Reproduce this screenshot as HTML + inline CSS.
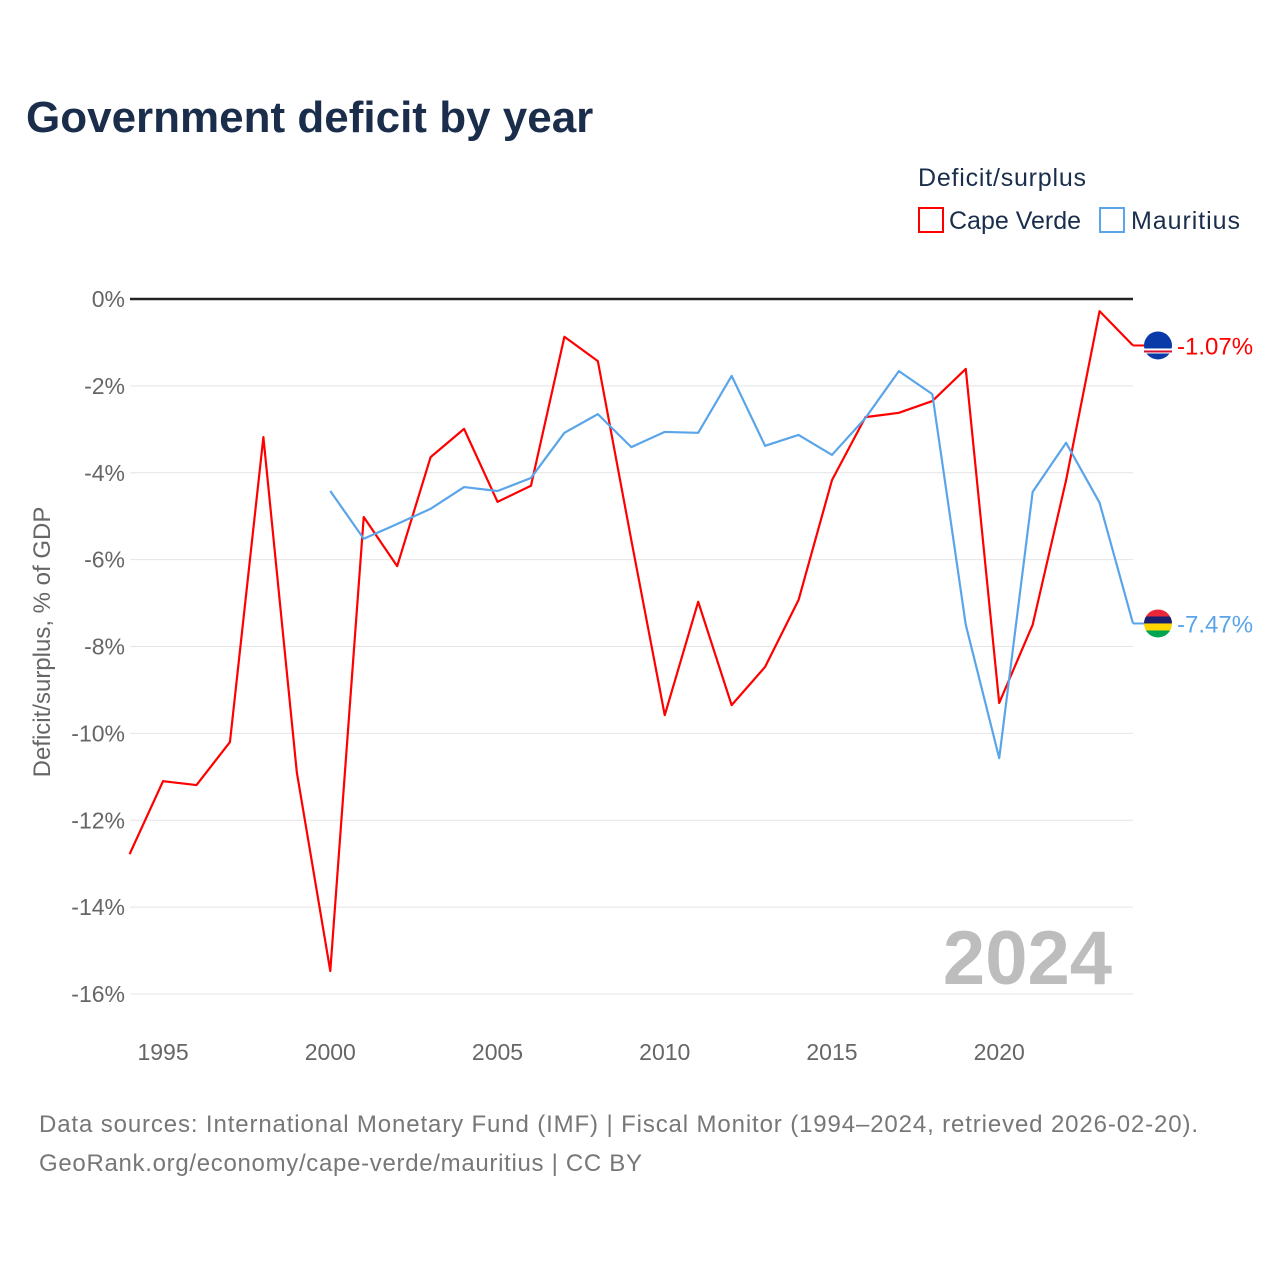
<!DOCTYPE html>
<html><head><meta charset="utf-8">
<style>
body{margin:0;background:#fff;font-family:"Liberation Sans",sans-serif;}
svg text{font-family:"Liberation Sans",sans-serif;}
</style></head>
<body>
<svg id="chart" width="1280" height="1280" viewBox="0 0 1280 1280" xmlns="http://www.w3.org/2000/svg">
<rect width="1280" height="1280" fill="#fff"/>
<text x="26" y="132" font-size="44" font-weight="bold" fill="#1a2e4c">Government deficit by year</text>
<text x="918" y="186" font-size="25" fill="#1a2e4c" textLength="168">Deficit/surplus</text>
<g>
<rect x="919" y="208" width="24" height="24" fill="none" stroke="#ff0000" stroke-width="2"/>
<text x="949" y="229" font-size="25" fill="#1a2e4c" textLength="132">Cape Verde</text></g>
<g>
<rect x="1100" y="208" width="24" height="24" fill="none" stroke="#5aa5ea" stroke-width="2"/>
<text x="1131" y="229" font-size="25" fill="#1a2e4c" textLength="109">Mauritius</text></g>
<text transform="translate(50,642) rotate(-90)" text-anchor="middle" font-size="24" fill="#666">Deficit/surplus, % of GDP</text>
<g id="grid"></g><g id="ticks"></g>
<text x="1112" y="984" text-anchor="end" font-size="76" font-weight="bold" fill="#bdbdbd">2024</text>
<g id="series"></g>
<text x="39" y="1132" font-size="24" fill="#777" textLength="1159">Data sources: International Monetary Fund (IMF) | Fiscal Monitor (1994–2024, retrieved 2026-02-20).</text>
<text x="39" y="1171" font-size="24" fill="#777" textLength="603">GeoRank.org/economy/cape-verde/mauritius | CC BY</text>
</svg>
<script>
const yTicks=[0,-2,-4,-6,-8,-10,-12,-14,-16];
const xTicks=[1995,2000,2005,2010,2015,2020];
const cvYears=[1994,1995,1996,1997,1998,1999,2000,2001,2002,2003,2004,2005,2006,2007,2008,2009,2010,2011,2012,2013,2014,2015,2016,2017,2018,2019,2020,2021,2022,2023,2024];
const cvValues=[-12.78,-11.1,-11.19,-10.2,-3.18,-10.9,-15.47,-5.02,-6.15,-3.64,-2.99,-4.67,-4.3,-0.87,-1.43,-5.55,-9.58,-6.97,-9.35,-8.47,-6.93,-4.17,-2.72,-2.62,-2.35,-1.61,-9.3,-7.5,-4.17,-0.28,-1.07];
const muYears=[2000,2001,2002,2003,2004,2005,2006,2007,2008,2009,2010,2011,2012,2013,2014,2015,2016,2017,2018,2019,2020,2021,2022,2023,2024];
const muValues=[-4.42,-5.52,-5.18,-4.83,-4.33,-4.42,-4.12,-3.08,-2.65,-3.41,-3.06,-3.08,-1.77,-3.38,-3.13,-3.59,-2.74,-1.66,-2.19,-7.5,-10.57,-4.44,-3.31,-4.69,-7.47];
const NS="http://www.w3.org/2000/svg";
const x=v=>129.6+(v-1994)*(1133-129.6)/30;
const y=v=>299+(-v)*(994-299)/16;
function mk(tag,attrs,parent){const e=document.createElementNS(NS,tag);for(const k in attrs)e.setAttribute(k,attrs[k]);parent.appendChild(e);return e;}
const grid=document.getElementById('grid'),ticks=document.getElementById('ticks'),series=document.getElementById('series');
yTicks.forEach(t=>{
 const l=mk('line',{x1:130,x2:1133,y1:y(t),y2:y(t),stroke:t===0?'#222':'#e4e4e4','stroke-width':t===0?2.5:1},grid);
 
 
 const tx=mk('text',{x:125,y:y(t)+8,'text-anchor':'end','font-size':23,fill:'#666'},ticks);
 tx.textContent=t+'%';
 
 
});
xTicks.forEach(t=>{
 const tx=mk('text',{x:x(t),y:1060,'text-anchor':'middle','font-size':23,fill:'#666'},ticks);
 tx.textContent=t;
 
 
});
function line(xs,vs,color,name){
 const p=mk('polyline',{points:xs.map((yr,i)=>x(yr)+','+y(vs[i])).join(' '),fill:'none',stroke:color,'stroke-width':2.2,'stroke-linejoin':'round'},series);
 
 
}
line(cvYears,cvValues,'#ff0000','cape-verde-line');
line(muYears,muValues,'#5aa5ea','mauritius-line');
function endLabel(v,color,name,flag){
 const cy=y(v),cx=1158;
 const g=mk('g',{},series);
 
 
 mk('line',{x1:1133,x2:1145,y1:cy,y2:cy,stroke:color,'stroke-width':2},g);
 if(flag==='cv'){
  mk('circle',{cx:cx,cy:cy,r:14,fill:'#0a3aa8'},g);
  mk('rect',{x:cx-14,y:cy+3,width:28,height:5,fill:'#fff'},g);
  mk('rect',{x:cx-14,y:cy+5,width:28,height:2,fill:'#d21034'},g);
 }else{
  const cols=['#ea2839','#1a206d','#ffd500','#00a551'];
  const clip=mk('clipPath',{id:'mc'},g);mk('circle',{cx:cx,cy:cy,r:14},clip);
  cols.forEach((c,i)=>mk('rect',{x:cx-14,y:cy-14+i*7,width:28,height:7,fill:c,'clip-path':'url(#mc)'},g));
 }
 const t=mk('text',{x:1177,y:cy+9,'font-size':24,fill:color},g);
 t.textContent=v.toFixed(2)+'%';
}
endLabel(cvValues[cvValues.length-1],'#ff0000','cape-verde-end-label','cv');
endLabel(muValues[muValues.length-1],'#5aa5ea','mauritius-end-label','mu');
</script>
</body></html>
